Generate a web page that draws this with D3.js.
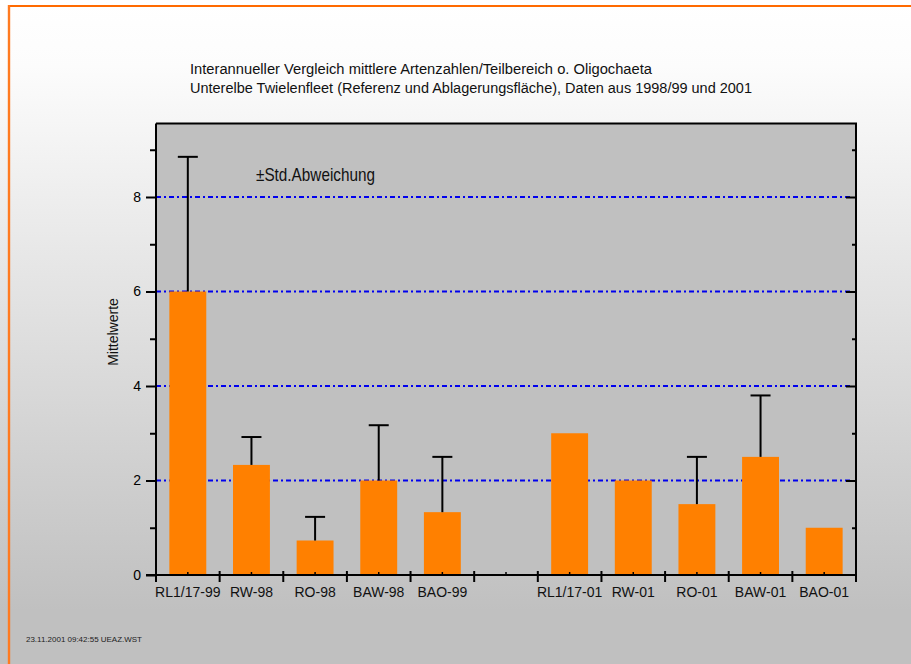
<!DOCTYPE html>
<html>
<head>
<meta charset="utf-8">
<script src="https://cdn.jsdelivr.net/npm/d3@7"></script>
<style>
  html, body { margin: 0; padding: 0; background: #fff; }
  svg { display: block; font-family: "Liberation Sans", Arial, sans-serif; }
</style>
</head>
<body>
<svg id="chart" width="911" height="664"></svg>
<script>
// Mean species counts per sub-area (excluding Oligochaeta), 1998/99 vs 2001
const categories98 = ["RL1/17-99", "RW-98", "RO-98", "BAW-98", "BAO-99"];
const categories01 = ["RL1/17-01", "RW-01", "RO-01", "BAW-01", "BAO-01"];
const means98 = [6.0, 2.33, 0.73, 2.0, 1.33];
const means01 = [3.0, 2.0, 1.5, 2.5, 1.0];
// upper end of the +std deviation whisker (null = no whisker)
const upper98 = [8.85, 2.92, 1.23, 3.17, 2.5];
const upper01 = [null, null, 2.5, 3.8, null];
const yTicks = [0, 2, 4, 6, 8];
const yMinorTicks = [1, 3, 5, 7, 9];
const gridValues = [2, 4, 6, 8];

const titleLines = [
  "Interannueller Vergleich mittlere Artenzahlen/Teilbereich o. Oligochaeta",
  "Unterelbe Twielenfleet (Referenz und Ablagerungsfläche), Daten aus 1998/99 und 2001"
];
const yLabel = "Mittelwerte";
const legendText = "±Std.Abweichung";
const footerText = "23.11.2001  09:42:55  UEAZ.WST";

const gapKey = "__gap__";
const slots = [...categories98, gapKey, ...categories01];
const rows = [
  ...categories98.map((c, i) => ({ cat: c, mean: means98[i], upper: upper98[i] })),
  ...categories01.map((c, i) => ({ cat: c, mean: means01[i], upper: upper01[i] }))
];

const svg = d3.select("#chart");
const W = 911, H = 664;
const plot = { left: 156, right: 856, top: 123.5, bottom: 575 };

// page background: soft vertical gradient from white to grey
const defs = svg.append("defs");
const grad = defs.append("linearGradient").attr("id", "bg")
  .attr("x1", 0).attr("y1", 0).attr("x2", 0).attr("y2", 1);
grad.append("stop").attr("offset", "0%").attr("stop-color", "#ffffff");
grad.append("stop").attr("offset", "10%").attr("stop-color", "#fcfcfc");
grad.append("stop").attr("offset", "92%").attr("stop-color", "#c0c0c0");
grad.append("stop").attr("offset", "100%").attr("stop-color", "#c0c0c0");
svg.append("rect").attr("width", W).attr("height", H).attr("fill", "url(#bg)");

// orange frame along the top and left edge
svg.append("line").attr("x1", 9).attr("x2", W).attr("y1", 6).attr("y2", 6)
  .attr("stroke", "#ff6a00").attr("stroke-width", 2.2);
svg.append("line").attr("x1", 9).attr("x2", 9).attr("y1", 5).attr("y2", H)
  .attr("stroke", "#ff7a20").attr("stroke-width", 2.4);

// scales
const x = d3.scaleBand().domain(slots).range([plot.left, plot.right]).padding(0);
const y = d3.scaleLinear().domain([0, (plot.bottom - plot.top) / 47.25]).range([plot.bottom, plot.top]);

// plot area
svg.append("rect")
  .attr("x", plot.left).attr("y", plot.top)
  .attr("width", plot.right - plot.left).attr("height", plot.bottom - plot.top)
  .attr("fill", "#c0c0c0");

// dotted blue grid
svg.append("g").selectAll("line").data(gridValues).join("line")
  .attr("x1", plot.left).attr("x2", plot.right - 6)
  .attr("y1", d => y(d)).attr("y2", d => y(d))
  .attr("stroke", "#0000ee").attr("stroke-width", 2)
  .attr("stroke-dasharray", "5,3,2,3");

// bars
const barW = x.bandwidth() * 0.58;
svg.append("g").selectAll("rect").data(rows).join("rect")
  .attr("x", d => x(d.cat) + (x.bandwidth() - barW) / 2)
  .attr("y", d => y(d.mean))
  .attr("width", barW)
  .attr("height", d => y(0) - y(d.mean))
  .attr("fill", "#ff8000");

// upper std-deviation whiskers
const whisk = svg.append("g").attr("stroke", "#000").attr("stroke-width", 2);
const withErr = rows.filter(d => d.upper != null);
whisk.selectAll("line.v").data(withErr).join("line").attr("class", "v")
  .attr("x1", d => x(d.cat) + x.bandwidth() / 2).attr("x2", d => x(d.cat) + x.bandwidth() / 2)
  .attr("y1", d => y(d.mean)).attr("y2", d => y(d.upper));
whisk.selectAll("line.c").data(withErr).join("line").attr("class", "c")
  .attr("x1", d => x(d.cat) + x.bandwidth() / 2 - 10).attr("x2", d => x(d.cat) + x.bandwidth() / 2 + 10)
  .attr("y1", d => y(d.upper)).attr("y2", d => y(d.upper));

// frame: top and right edges
svg.append("path")
  .attr("d", `M${plot.left},${plot.top}H${plot.right}V${plot.bottom}`)
  .attr("fill", "none").attr("stroke", "#000").attr("stroke-width", 2);

// left y axis with outward ticks
const yAxis = d3.axisLeft(y).tickValues(yTicks).tickSize(10).tickPadding(5).tickFormat(d3.format("d"));
const gy = svg.append("g").attr("transform", `translate(${plot.left},0)`).call(yAxis);
gy.select(".domain").attr("d", `M0,${plot.top}V${plot.bottom}`).attr("stroke-width", 2);
gy.selectAll(".tick line").attr("stroke-width", 2);
gy.selectAll(".tick text").attr("font-size", 14).attr("fill", "#000")
  .attr("font-family", "Liberation Sans, Arial, sans-serif");
const gyMinor = svg.append("g").attr("transform", `translate(${plot.left},0)`)
  .call(d3.axisLeft(y).tickValues(yMinorTicks).tickSize(6).tickFormat(""));
gyMinor.select(".domain").remove();
gyMinor.selectAll(".tick line").attr("stroke-width", 2);

// right side inward ticks
const gr = svg.append("g").attr("transform", `translate(${plot.right},0)`)
  .call(d3.axisLeft(y).tickValues(yTicks.filter(v => v > 0)).tickSize(10).tickFormat(""));
gr.select(".domain").remove();
gr.selectAll(".tick line").attr("stroke-width", 2);
const grMinor = svg.append("g").attr("transform", `translate(${plot.right},0)`)
  .call(d3.axisLeft(y).tickValues(yMinorTicks).tickSize(4).tickFormat(""));
grMinor.select(".domain").remove();
grMinor.selectAll(".tick line").attr("stroke-width", 2);

// x axis: baseline, slot boundary ticks, centre minor ticks, labels
const gx = svg.append("g");
gx.append("line").attr("x1", plot.left - 10).attr("x2", plot.right)
  .attr("y1", plot.bottom).attr("y2", plot.bottom)
  .attr("stroke", "#000").attr("stroke-width", 2);
const bounds = slots.map(s => x(s)).concat([x.range()[1]]);
gx.selectAll("line.b").data(bounds).join("line").attr("class", "b")
  .attr("x1", d => d).attr("x2", d => d)
  .attr("y1", plot.bottom - 4).attr("y2", plot.bottom + 7)
  .attr("stroke", "#000").attr("stroke-width", 2);
gx.selectAll("line.m").data(slots).join("line").attr("class", "m")
  .attr("x1", d => x(d) + x.bandwidth() / 2).attr("x2", d => x(d) + x.bandwidth() / 2)
  .attr("y1", plot.bottom - 3).attr("y2", plot.bottom)
  .attr("stroke", "#000").attr("stroke-width", 1.5);
gx.selectAll("text").data(slots.filter(s => s !== gapKey)).join("text")
  .attr("x", d => x(d) + x.bandwidth() / 2)
  .attr("y", 597)
  .attr("text-anchor", "middle")
  .attr("font-size", 14)
  .attr("fill", "#111")
  .text(d => d);

// y axis title
svg.append("text")
  .attr("transform", "translate(118,332) rotate(-90)")
  .attr("text-anchor", "middle")
  .attr("font-size", 14)
  .attr("fill", "#111")
  .text(yLabel);

// chart title
const titleW = [462, 562];
svg.append("g").selectAll("text").data(titleLines).join("text")
  .attr("x", 190)
  .attr("y", (d, i) => 74 + i * 19)
  .attr("font-size", 14)
  .attr("fill", "#111")
  .attr("textLength", (d, i) => titleW[i])
  .attr("lengthAdjust", "spacingAndGlyphs")
  .text(d => d);

// legend note
svg.append("text")
  .attr("x", 256).attr("y", 180.5)
  .attr("font-size", 19)
  .attr("fill", "#111")
  .attr("textLength", 119)
  .attr("lengthAdjust", "spacingAndGlyphs")
  .text(legendText);

// footer timestamp
svg.append("text")
  .attr("x", 26).attr("y", 641.5)
  .attr("font-size", 7)
  .attr("fill", "#222")
  .attr("textLength", 116)
  .attr("lengthAdjust", "spacingAndGlyphs")
  .text(footerText);
</script>
</body>
</html>
